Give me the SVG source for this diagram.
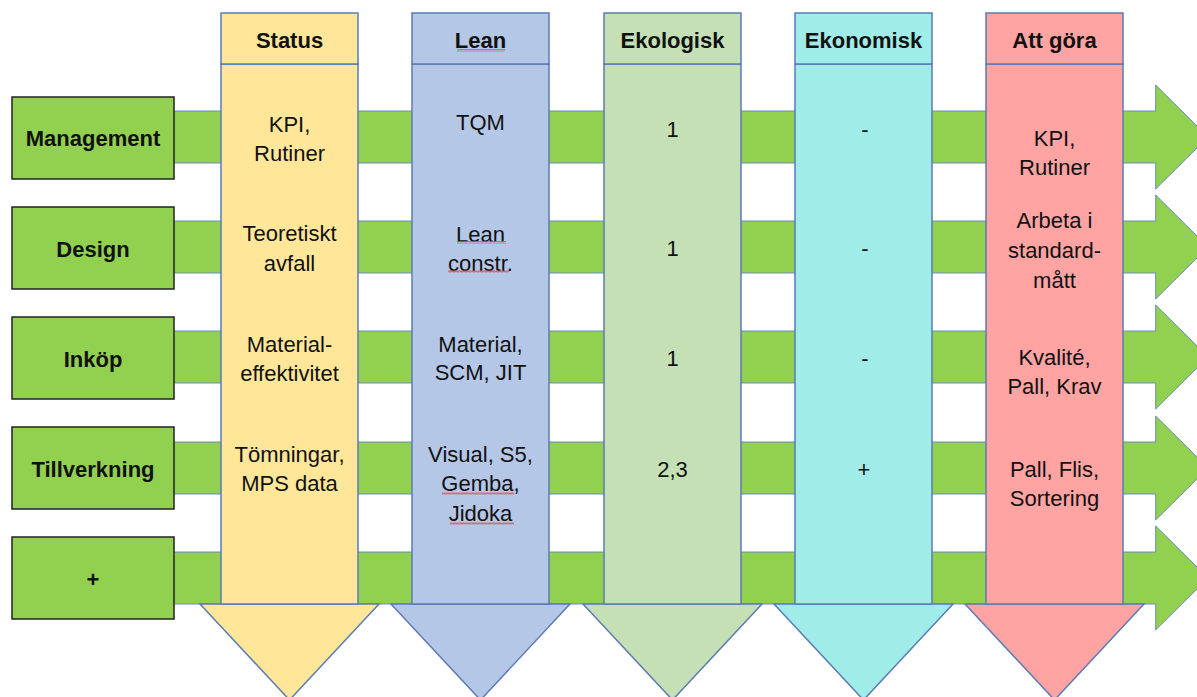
<svg xmlns="http://www.w3.org/2000/svg" width="1197" height="697" viewBox="0 0 1197 697">
<defs>
<style>
.band{fill:#92d050;stroke:#6a8cc0;stroke-width:1}
.lbl{fill:#92d050;stroke:#222;stroke-width:1.5}
.col{stroke:#5b7bb5;stroke-width:1.5}
.hd{font-family:"Liberation Sans",Arial,sans-serif;font-weight:bold;font-size:22px;fill:#111;text-anchor:middle}
.tx{font-family:"Liberation Sans",Arial,sans-serif;font-size:22px;fill:#111;text-anchor:middle}
.st{fill:#ffe699}.ln{fill:#b4c7e7}.ek{fill:#c5e0b4}.eo{fill:#a0ece8}.ag{fill:#ffa3a3}
</style>
<pattern id="sq" x="0" y="0" width="4" height="3" patternUnits="userSpaceOnUse">
<path d="M0,2.5 L1,0.5 L2,2.5 L3,0.5 L4,2.5" fill="none" stroke="#e05060" stroke-width="0.8"/>
</pattern>
</defs>
<rect width="1197" height="697" fill="#fff"/>
<g id="connectors">
<path class="band" d="M170,111 H1155.7 V85 L1208,137 L1155.7,189 V163 H170 Z"/>
<path class="band" d="M170,221 H1155.7 V195 L1208,247 L1155.7,299 V273 H170 Z"/>
<path class="band" d="M170,331 H1155.7 V305 L1208,357 L1155.7,409 V383 H170 Z"/>
<path class="band" d="M170,442 H1155.7 V416 L1208,468 L1155.7,520 V494 H170 Z"/>
<path class="band" d="M170,552 H1155.7 V526 L1208,578 L1155.7,630 V604 H170 Z"/>
</g>
<g id="col-status">
<polygon class="col st" points="200,604 379,604 289.5,700"/>
<rect class="col st" x="221" y="64" width="137" height="540"/>
<rect class="col st" x="221" y="13" width="137" height="51"/>
<text class="hd" x="289.5" y="48">Status</text>
<text class="tx" x="289.5" y="132">KPI,</text>
<text class="tx" x="289.5" y="161">Rutiner</text>
<text class="tx" x="289.5" y="241">Teoretiskt</text>
<text class="tx" x="289.5" y="271">avfall</text>
<text class="tx" x="289.5" y="352">Material-</text>
<text class="tx" x="289.5" y="381">effektivitet</text>
<text class="tx" x="289.5" y="462">Tömningar,</text>
<text class="tx" x="289.5" y="491">MPS data</text>
</g>
<g id="col-lean">
<polygon class="col ln" points="391,604 570,604 480.5,700"/>
<rect class="col ln" x="412" y="64" width="137" height="540"/>
<rect class="col ln" x="412" y="13" width="137" height="51"/>
<text class="hd" x="480.5" y="48">Lean</text>
<text class="tx" x="480.5" y="130">TQM</text>
<text class="tx" x="480.5" y="242">Lean</text>
<text class="tx" x="480.5" y="271">constr.</text>
<text class="tx" x="480.5" y="352">Material,</text>
<text class="tx" x="480.5" y="380">SCM, JIT</text>
<text class="tx" x="480.5" y="462">Visual, S5,</text>
<text class="tx" x="480.5" y="491">Gemba,</text>
<text class="tx" x="480.5" y="521">Jidoka</text>
<rect x="457" y="49" width="48" height="3" fill="url(#sq)"/>
<rect x="457" y="241" width="49" height="3" fill="url(#sq)"/>
<rect x="448" y="270" width="61" height="3" fill="url(#sq)"/>
<rect x="442" y="492" width="72" height="3" fill="url(#sq)"/>
<rect x="450" y="522" width="64" height="3" fill="url(#sq)"/>
</g>
<g id="col-ekologisk">
<polygon class="col ek" points="583,604 762,604 672.5,700"/>
<rect class="col ek" x="604" y="64" width="137" height="540"/>
<rect class="col ek" x="604" y="13" width="137" height="51"/>
<text class="hd" x="672.5" y="48">Ekologisk</text>
<text class="tx" x="672.5" y="137">1</text>
<text class="tx" x="672.5" y="256">1</text>
<text class="tx" x="672.5" y="366">1</text>
<text class="tx" x="672.5" y="477">2,3</text>
</g>
<g id="col-ekonomisk">
<polygon class="col eo" points="774,604 953,604 863.5,700"/>
<rect class="col eo" x="795" y="64" width="137" height="540"/>
<rect class="col eo" x="795" y="13" width="137" height="51"/>
<text class="hd" x="863.5" y="48">Ekonomisk</text>
<text class="tx" x="865" y="137">-</text>
<text class="tx" x="865" y="256">-</text>
<text class="tx" x="865" y="366">-</text>
<text class="tx" x="864" y="477">+</text>
</g>
<g id="col-attgora">
<polygon class="col ag" points="965,604 1144,604 1054.5,700"/>
<rect class="col ag" x="986" y="64" width="137" height="540"/>
<rect class="col ag" x="986" y="13" width="137" height="51"/>
<text class="hd" x="1054.5" y="48">Att göra</text>
<text class="tx" x="1054.5" y="146">KPI,</text>
<text class="tx" x="1054.5" y="175">Rutiner</text>
<text class="tx" x="1054.5" y="228">Arbeta i</text>
<text class="tx" x="1054.5" y="258">standard-</text>
<text class="tx" x="1054.5" y="288">mått</text>
<text class="tx" x="1054.5" y="365">Kvalité,</text>
<text class="tx" x="1054.5" y="394">Pall, Krav</text>
<text class="tx" x="1054.5" y="477">Pall, Flis,</text>
<text class="tx" x="1054.5" y="506">Sortering</text>
</g>
<g id="row-management">
<rect class="lbl" x="12" y="97" width="162" height="82"/>
<text class="hd" x="93" y="146">Management</text>
</g>
<g id="row-design">
<rect class="lbl" x="12" y="207" width="162" height="82"/>
<text class="hd" x="93" y="257">Design</text>
</g>
<g id="row-inkop">
<rect class="lbl" x="12" y="317" width="162" height="82"/>
<text class="hd" x="93" y="367">Inköp</text>
</g>
<g id="row-tillverkning">
<rect class="lbl" x="12" y="427" width="162" height="82"/>
<text class="hd" x="93" y="477">Tillverkning</text>
</g>
<g id="row-plus">
<rect class="lbl" x="12" y="537" width="162" height="82"/>
<text class="hd" x="93" y="587">+</text>
</g>
</svg>
